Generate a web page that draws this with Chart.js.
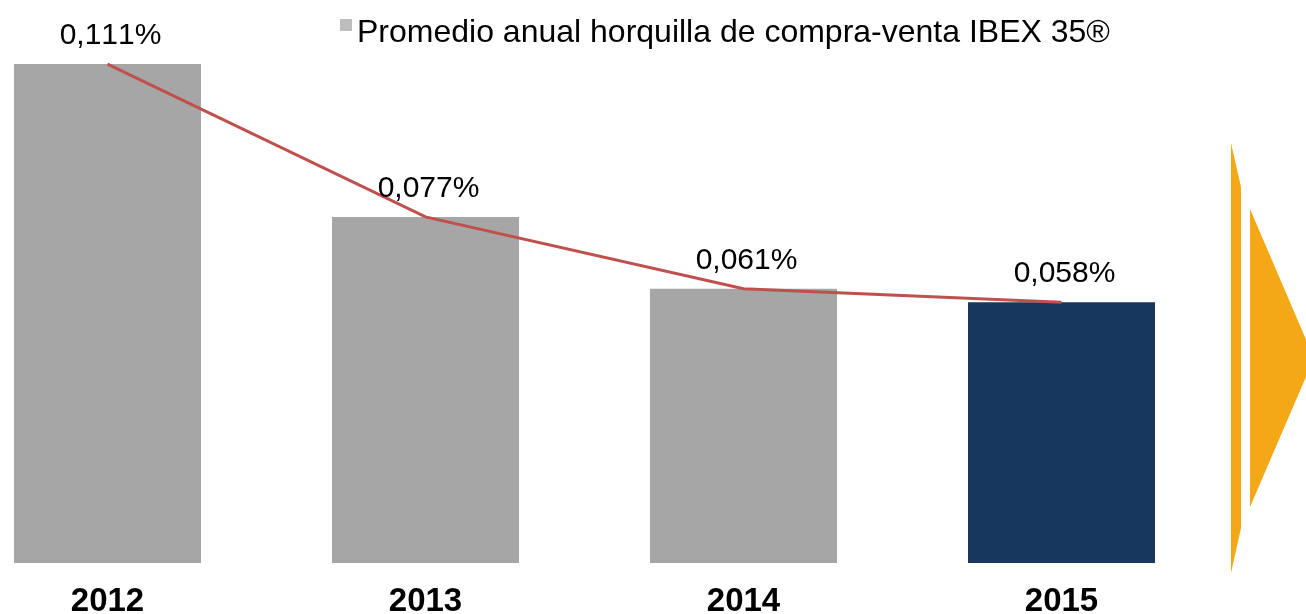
<!DOCTYPE html>
<html>
<head>
<meta charset="utf-8">
<script src="https://cdn.jsdelivr.net/npm/chart.js@4/dist/chart.umd.min.js"></script>
<style>
  html, body { margin: 0; padding: 0; background: #ffffff; overflow: hidden; }
  #wrap { position: relative; width: 1306px; height: 614px; }
</style>
</head>
<body>
<div id="wrap"><canvas id="chart"></canvas></div>
<script>
// Annual average bid-ask spread of the IBEX 35 (%)
const years = ['2012', '2013', '2014', '2015'];
const spreadValues = [0.111, 0.077, 0.061, 0.058];
const seriesLabel = 'Promedio anual horquilla de compra-venta IBEX 35®';

const barColors = ['#A6A6A6', '#A6A6A6', '#A6A6A6', '#17375E'];
const legendBoxColor = '#BDBDBD';
const trendColor = '#C0504D';
const arrowColor = '#F5A816';
const FONT = '"Liberation Sans", Arial, sans-serif';

const fmtPct = v => v.toFixed(3).replace('.', ',') + '%';

// Value labels above each bar
const valueLabels = {
  id: 'valueLabels',
  afterDatasetsDraw(chart) {
    const ctx = chart.ctx;
    const meta = chart.getDatasetMeta(0);
    ctx.save();
    ctx.font = '30px ' + FONT;
    if ('fontKerning' in ctx) ctx.fontKerning = 'none';
    ctx.fillStyle = '#000000';
    ctx.textAlign = 'center';
    ctx.textBaseline = 'alphabetic';
    meta.data.forEach((bar, i) => {
      ctx.fillText(fmtPct(chart.data.datasets[0].data[i]), bar.x + 3, bar.y - 20);
    });
    ctx.restore();
  }
};

// Single-entry legend at the top
const topLegend = {
  id: 'topLegend',
  afterDraw(chart) {
    const ctx = chart.ctx;
    ctx.save();
    ctx.fillStyle = legendBoxColor;
    ctx.fillRect(340, 19, 12, 12);
    ctx.font = '32px ' + FONT;
    ctx.fillStyle = '#000000';
    ctx.textAlign = 'left';
    ctx.textBaseline = 'alphabetic';
    ctx.fillText(chart.data.datasets[0].label, 357, 42);
    ctx.restore();
  }
};

// Orange chevron ornament at the right edge
const chevron = {
  id: 'chevron',
  afterDraw(chart) {
    const ctx = chart.ctx;
    ctx.save();
    ctx.fillStyle = arrowColor;
    ctx.beginPath();
    ctx.moveTo(1231, 143);
    ctx.lineTo(1241, 187);
    ctx.lineTo(1241, 528);
    ctx.lineTo(1231, 573);
    ctx.closePath();
    ctx.fill();
    ctx.beginPath();
    ctx.moveTo(1250, 209);
    ctx.lineTo(1314, 358);
    ctx.lineTo(1250, 507);
    ctx.closePath();
    ctx.fill();
    ctx.restore();
  }
};

new Chart(document.getElementById('chart'), {
  data: {
    labels: years,
    datasets: [
      {
        type: 'bar',
        label: seriesLabel,
        data: spreadValues,
        backgroundColor: barColors,
        borderWidth: 0,
        categoryPercentage: 0.8,
        barPercentage: 0.735,
        clip: false,
        order: 2
      },
      {
        type: 'line',
        label: 'Tendencia',
        data: spreadValues,
        borderColor: trendColor,
        borderWidth: 3,
        pointRadius: 0,
        tension: 0,
        fill: false,
        clip: false,
        order: 1
      }
    ]
  },
  options: {
    responsive: true,
    maintainAspectRatio: false,
    animation: false,
    devicePixelRatio: 1,
    layout: { padding: { left: 107.5, right: 244.5, top: 23.6, bottom: 0 } },
    plugins: {
      legend: { display: false },
      tooltip: { enabled: false }
    },
    scales: {
      x: {
        type: 'category',
        offset: false,
        grid: { display: false, drawTicks: false },
        border: { display: false },
        ticks: {
          color: '#000000',
          font: { family: FONT, size: 33, weight: 'bold', lineHeight: 1 },
          padding: 22,
          maxRotation: 0,
          autoSkip: false
        },
        afterFit(scale) { scale.height = 51; }
      },
      y: {
        display: false,
        min: 0,
        max: 0.12
      }
    }
  },
  plugins: [valueLabels, topLegend, chevron]
});
</script>
</body>
</html>
